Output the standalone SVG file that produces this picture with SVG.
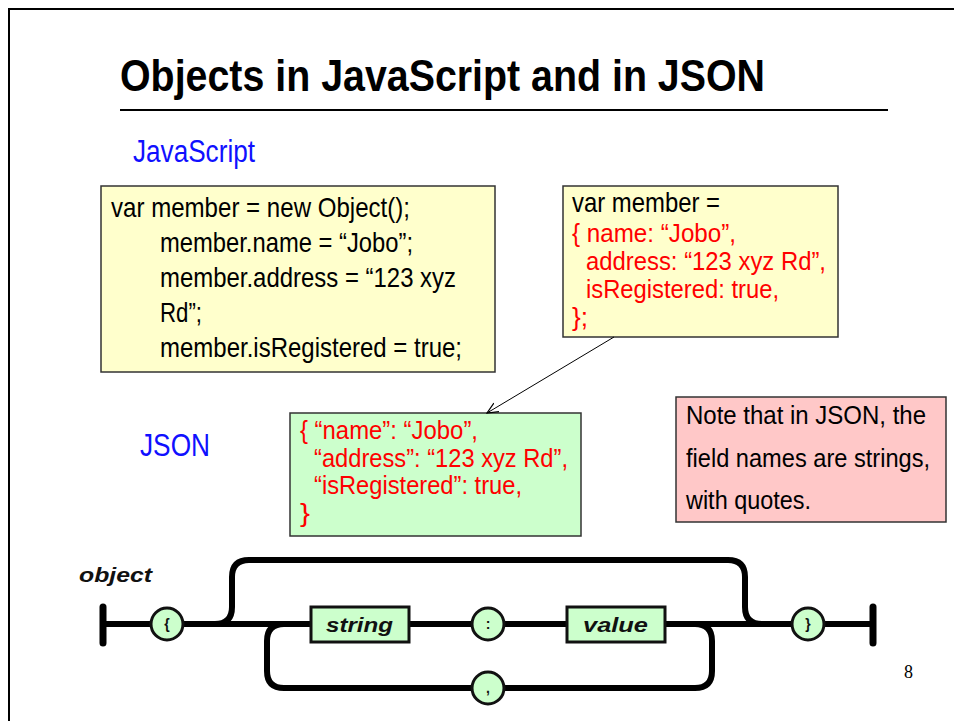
<svg xmlns="http://www.w3.org/2000/svg" width="954" height="721" viewBox="0 0 954 721">
<style>
text{font-family:"Liberation Sans",Arial,sans-serif}
.t{font-size:28px;fill:#000}
.s{font-size:25px}
.red{fill:#ff0000}
.blk{fill:#000}
.blue{fill:#1010ff;font-size:31px}
.box{stroke:#333;stroke-width:1.5}
.rail{fill:none;stroke:#000;stroke-width:6;stroke-linecap:round}
.term{fill:#ccffcc;stroke:#111;stroke-width:3}
.lab{font-weight:bold;font-style:italic;font-size:21px;fill:#111}
.ch{font-weight:bold;font-size:14px;fill:#111;text-anchor:middle}
</style>
<defs>
<marker id="open" viewBox="0 0 12 12" refX="11" refY="6" markerWidth="12" markerHeight="12" markerUnits="userSpaceOnUse" orient="auto">
<path d="M0,1 L11,6 L0,11" fill="none" stroke="#000" stroke-width="1.2"/>
</marker>
</defs>
<rect x="0" y="0" width="954" height="721" fill="#fff"/>
<rect x="9" y="9" width="960" height="730" fill="none" stroke="#000" stroke-width="2"/>

<g id="title">
<text x="120" y="91" font-size="45" font-weight="bold" textLength="645" lengthAdjust="spacingAndGlyphs">Objects in JavaScript and in JSON</text>
<line x1="120" y1="110" x2="888" y2="110" stroke="#000" stroke-width="2"/>
</g>

<g id="label-javascript">
<text class="blue" x="133" y="162" textLength="122" lengthAdjust="spacingAndGlyphs">JavaScript</text>
</g>
<g id="label-json">
<text class="blue" x="140" y="456" textLength="70" lengthAdjust="spacingAndGlyphs">JSON</text>
</g>

<g id="js-box">
<rect class="box" x="101" y="186" width="394" height="186" fill="#ffffcc"/>
<text class="t" x="111" y="217" textLength="299" lengthAdjust="spacingAndGlyphs">var member = new Object();</text>
<text class="t" x="160" y="252" textLength="253" lengthAdjust="spacingAndGlyphs">member.name = “Jobo”;</text>
<text class="t" x="160" y="287" textLength="296" lengthAdjust="spacingAndGlyphs">member.address = “123 xyz</text>
<text class="t" x="160" y="322" textLength="42" lengthAdjust="spacingAndGlyphs">Rd”;</text>
<text class="t" x="160" y="357" textLength="302" lengthAdjust="spacingAndGlyphs">member.isRegistered = true;</text>
</g>

<g id="literal-box">
<rect class="box" x="563" y="186" width="275" height="151" fill="#ffffcc"/>
<text class="blk" font-size="28" x="572" y="212" textLength="148" lengthAdjust="spacingAndGlyphs">var member =</text>
<text class="s red" x="572" y="242" textLength="164" lengthAdjust="spacingAndGlyphs">{ name: “Jobo”,</text>
<text class="s red" x="586" y="270" textLength="240" lengthAdjust="spacingAndGlyphs">address: “123 xyz Rd”,</text>
<text class="s red" x="586" y="298" textLength="193" lengthAdjust="spacingAndGlyphs">isRegistered: true,</text>
<text class="s red" x="572" y="326" textLength="16" lengthAdjust="spacingAndGlyphs">};</text>
</g>

<g id="json-box">
<rect class="box" x="290" y="413" width="291" height="123" fill="#ccffcc"/>
<text class="s red" x="300" y="439" textLength="178" lengthAdjust="spacingAndGlyphs">{ “name”: “Jobo”,</text>
<text class="s red" x="314" y="467" textLength="254" lengthAdjust="spacingAndGlyphs">“address”: “123 xyz Rd”,</text>
<text class="s red" x="314" y="494" textLength="208" lengthAdjust="spacingAndGlyphs">“isRegistered”: true,</text>
<text class="s red" x="300" y="522" textLength="10" lengthAdjust="spacingAndGlyphs">}</text>
</g>

<g id="note-box">
<rect class="box" x="676" y="397" width="270" height="125" fill="#ffc8c8"/>
<text class="s blk" x="686" y="424" textLength="240" lengthAdjust="spacingAndGlyphs">Note that in JSON, the</text>
<text class="s blk" x="686" y="467" textLength="244" lengthAdjust="spacingAndGlyphs">field names are strings,</text>
<text class="s blk" x="686" y="509" textLength="125" lengthAdjust="spacingAndGlyphs">with quotes.</text>
</g>

<g id="connectors">
<line x1="614" y1="337" x2="487" y2="413" stroke="#000" stroke-width="1" marker-end="url(#open)"/>
</g>

<g id="railroad">
<text class="lab" x="79" y="582" textLength="73" lengthAdjust="spacingAndGlyphs">object</text>
<line x1="103" y1="607" x2="103" y2="643" stroke="#000" stroke-width="7" stroke-linecap="round"/>
<line x1="873" y1="607" x2="873" y2="643" stroke="#000" stroke-width="7" stroke-linecap="round"/>
<path class="rail" d="M103,624 H873"/>
<path class="rail" d="M215,624 Q232,624 232,607 V577 Q232,560 249,560 H728 Q745,560 745,577 V607 Q745,624 762,624"/>
<path class="rail" d="M695,624 Q712,624 712,641 V671 Q712,688 695,688 H284 Q267,688 267,671 V641 Q267,624 284,624"/>
<g id="t-open"><circle class="term" cx="167" cy="624" r="16"/><text class="ch" x="167" y="629">{</text></g>
<g id="t-string"><rect class="term" x="311" y="607" width="98" height="35"/><text class="lab" x="326" y="632" textLength="67" lengthAdjust="spacingAndGlyphs">string</text></g>
<g id="t-colon"><circle class="term" cx="488" cy="624" r="16"/><text class="ch" x="488" y="629">:</text></g>
<g id="t-comma"><circle class="term" cx="488" cy="688" r="16"/><text class="ch" x="488" y="693">,</text></g>
<g id="t-value"><rect class="term" x="567" y="607" width="98" height="35"/><text class="lab" x="583" y="632" textLength="65" lengthAdjust="spacingAndGlyphs">value</text></g>
<g id="t-close"><circle class="term" cx="808" cy="624" r="16"/><text class="ch" x="808" y="629">}</text></g>
</g>

<g id="page-number">
<text x="904" y="678" font-size="18" fill="#000" style="font-family:'Liberation Serif',serif">8</text>
</g>
</svg>
